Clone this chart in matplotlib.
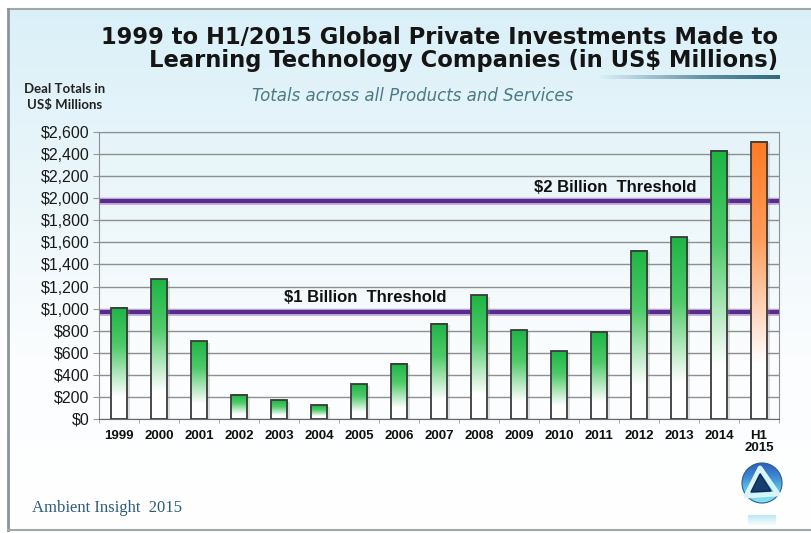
import numpy as np
import matplotlib
matplotlib.use('Agg')
import matplotlib.pyplot as plt
from matplotlib.colors import LinearSegmentedColormap
from matplotlib.patches import Rectangle, Circle, Polygon

years = ['1999', '2000', '2001', '2002', '2003', '2004', '2005', '2006', '2007',
         '2008', '2009', '2010', '2011', '2012', '2013', '2014', 'H1\n2015']
deals = [1010, 1265, 705, 220, 170, 125, 315, 500, 865,
         1120, 805, 615, 785, 1525, 1645, 2430, 2510]
thresholds = [965, 1975]
threshold_labels = ['$1 Billion  Threshold', '$2 Billion  Threshold']
y_ticks = list(range(0, 2601, 200))

W, H = 811, 533
fig = plt.figure(figsize=(W / 100, H / 100), dpi=100)

# background layer in pixel coordinates (origin top-left)
deco = fig.add_axes([0, 0, 1, 1], zorder=0)
deco.set_xlim(0, W)
deco.set_ylim(H, 0)
deco.axis('off')
bg = np.linspace(0, 1, 256).reshape(-1, 1)
bg_cmap = LinearSegmentedColormap.from_list('bg', ['#daf0f8', '#eaf6fa', '#fbfdfe', '#ffffff'])
deco.imshow(bg, extent=(8, W, H - 3, 9), cmap=bg_cmap, aspect='auto', origin='upper')
deco.plot([8, W], [9, 9], color='#a0a8ac', lw=1.5)
deco.plot([8, 8], [9, H - 3], color='#8c9498', lw=2)
deco.plot([8, W], [H - 3, H - 3], color='#a0a8ac', lw=1.5)

deco.text(778, 37, '1999 to H1/2015 Global Private Investments Made to',
          ha='right', va='center', fontsize=16.3, fontweight='bold', color='#151515',
          family='DejaVu Sans')
deco.text(778, 61, 'Learning Technology Companies (in US$ Millions)',
          ha='right', va='center', fontsize=16.3, fontweight='bold', color='#151515',
          family='DejaVu Sans')

# fading rule under the title
rule = np.linspace(0, 1, 256).reshape(1, -1)
rule_cmap = LinearSegmentedColormap.from_list('rule', [(0.0, '#daf0f8'), (0.6, '#5e8fa3'), (1.0, '#2e6a80')])
deco.imshow(rule, extent=(600, 780, 79, 75), cmap=rule_cmap, aspect='auto')

deco.text(413, 96, 'Totals across all Products and Services', ha='center', va='center',
          fontsize=12, style='italic', color='#4d7888', family='DejaVu Sans')
deco.text(65, 89, 'Deal Totals in', ha='center', va='center', fontsize=9.5,
          fontweight='bold', color='#222222', family='Lato')
deco.text(65, 105, 'US$ Millions', ha='center', va='center', fontsize=9.5,
          fontweight='bold', color='#222222', family='Lato')

deco.text(32, 508, 'Ambient Insight  2015', ha='left', va='center', fontsize=12,
          color='#2c5d78', family='Liberation Serif')

# logo: blue sphere with triangle
sphere = np.linspace(0, 1, 128).reshape(-1, 1)
sphere_cmap = LinearSegmentedColormap.from_list('sph', ['#2a5fb8', '#3f86d0', '#5cc8e8', '#8fe6f0'])
im = deco.imshow(sphere, extent=(742, 782, 504, 462), cmap=sphere_cmap, aspect='auto',
                 origin='upper')
clip = Circle((762, 483), 20, transform=deco.transData)
im.set_clip_path(clip)
deco.add_patch(Circle((762, 483), 20, fill=False, edgecolor='#2b5a9a', lw=0.8))
deco.add_patch(Polygon([(760, 468), (746, 496), (778, 494)], closed=True, fill=False,
                       edgecolor='#d8f4f8', lw=3.5, joinstyle='round'))
deco.add_patch(Polygon([(760, 474), (751, 492), (771, 491)], closed=True,
                       facecolor='#163d70', edgecolor='#0f2a50', lw=1))
refl = np.linspace(0, 1, 64).reshape(-1, 1)
refl_cmap = LinearSegmentedColormap.from_list('refl', ['#8fd8ee', '#ffffff'])
deco.imshow(refl, extent=(748, 776, 526, 515), cmap=refl_cmap, aspect='auto',
            origin='upper', alpha=0.6)

# main chart
ax = fig.add_axes([99 / W, (H - 419) / H, 680 / W, 287 / H], zorder=1)
ax.set_facecolor('none')
x = np.arange(len(years))

for y in y_ticks:
    ax.axhline(y, color='#8d8f90', lw=1.0, zorder=1)
for t in thresholds:
    ax.axhline(t, color='#c4b2dc', lw=5, zorder=2)
    ax.axhline(t, color='#5a2a8e', lw=3, zorder=2)
ax.text(6.15, 1030, threshold_labels[0], ha='center', va='bottom', fontsize=12,
        fontweight='bold', color='#111111', family='Liberation Sans', zorder=2)
ax.text(12.4, 2030, threshold_labels[1], ha='center', va='bottom', fontsize=12,
        fontweight='bold', color='#111111', family='Liberation Sans', zorder=2)

grad = np.linspace(0, 1, 256).reshape(-1, 1)
green = LinearSegmentedColormap.from_list('g', [(0, '#ffffff'), (0.2, '#ffffff'),
                                               (0.65, '#4fcb6a'), (1, '#1db544')])
orange = LinearSegmentedColormap.from_list('o', [(0, '#ffffff'), (0.2, '#ffffff'),
                                                (0.65, '#ff9c5c'), (1, '#ff7a22')])
bw = 0.42
for i, v in enumerate(deals):
    cmap = orange if years[i].startswith('H1') else green
    ax.add_patch(Rectangle((i - bw / 2 + 0.06, 0), bw, v - 12, facecolor='#9a9a9a',
                           alpha=0.3, edgecolor='none', zorder=2.5))
    ax.imshow(grad, extent=(i - bw / 2, i + bw / 2, 0, v), cmap=cmap, aspect='auto',
              origin='lower', zorder=3)
    ax.add_patch(Rectangle((i - bw / 2, 0), bw, v, fill=False, edgecolor='#3a3a3a',
                           lw=1.3, zorder=4))

ax.set_xlim(-0.5, len(years) - 0.5)
ax.set_ylim(0, 2600)
ax.set_yticks(y_ticks)
ax.set_yticklabels([f'${v:,}' for v in y_ticks], fontsize=11.5, family='Liberation Sans',
                   color='#1a1a1a')
ax.set_xticks(x)
ax.set_xticklabels(years, fontsize=9.5, fontweight='bold', family='Liberation Sans',
                   color='#111111', linespacing=1.0)
ax.set_xticks(np.arange(-0.5, len(years), 1), minor=True)
ax.tick_params(axis='x', which='major', length=0, pad=8)
ax.tick_params(axis='x', which='minor', length=3, color='#999999')
ax.tick_params(axis='y', length=4, color='#999999', pad=3)
for side in ['left', 'top', 'right']:
    ax.spines[side].set_color('#8d8f90')
ax.spines['bottom'].set_color('#6a6a6a')

fig.savefig('out.png', dpi=100)
